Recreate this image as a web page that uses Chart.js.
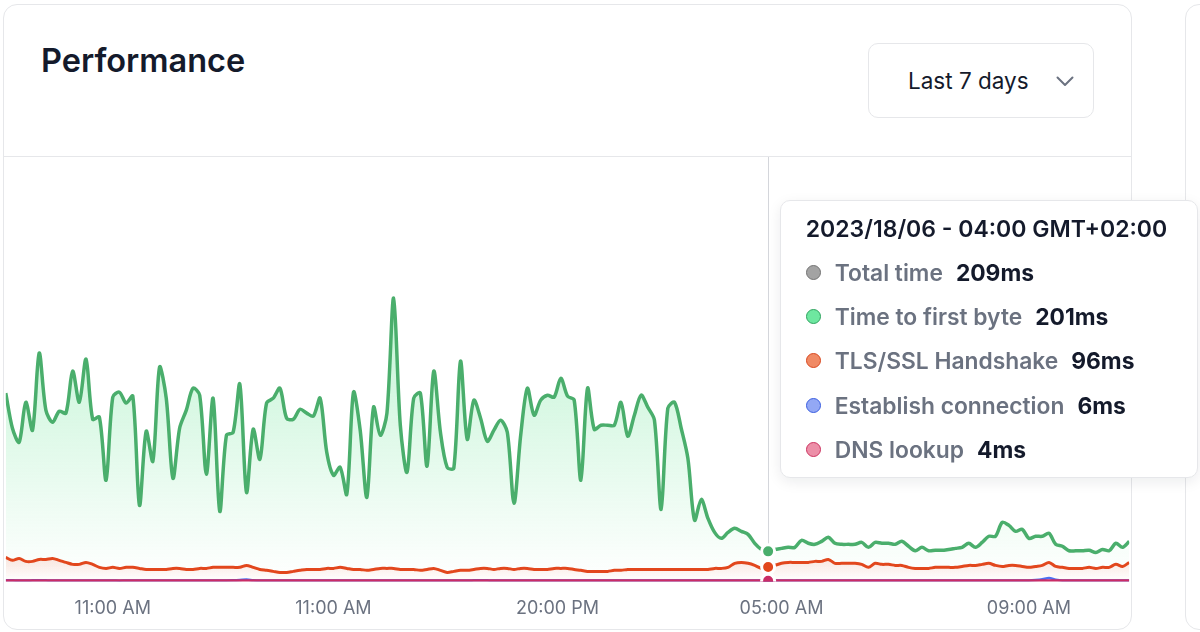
<!DOCTYPE html>
<html>
<head>
<meta charset="utf-8">
<title>Performance</title>
<script src="https://cdn.jsdelivr.net/npm/chart.js@4.4.0/dist/chart.umd.min.js"></script>
<style>
  html, body { margin: 0; padding: 0; background: #fff; }
  body { width: 1200px; height: 632px; position: relative; overflow: hidden; font-family: Inter, "Noto Sans", sans-serif; color: #111827; }
  .card { position: absolute; left: 3px; top: 4px; width: 1129px; height: 626px; box-sizing: border-box; border: 1px solid #e6e7ea; border-radius: 14px; background: #fff; }
  .card.next { left: 1185px; width: 200px; }
  .card h2 { position: absolute; left: 37px; top: 36px; margin: 0; font-size: 32.5px; line-height: 40px; font-weight: 600; color: #141a2b; }
  .divider { position: absolute; left: 0; right: 0; top: 151px; border-top: 1px solid #e6e7ea; }
  .select { position: absolute; left: 864px; top: 38px; width: 226px; height: 75px; box-sizing: border-box; border: 1px solid #e6e7ea; border-radius: 10px; display: flex; align-items: center; padding-left: 39px; font-size: 22.5px; color: #141a2b; }
  .select svg { position: absolute; left: 187px; top: 32px; }
  #wrap { position: absolute; left: 4px; top: 157px; width: 1127px; height: 488px; }
  #tip { position: absolute; top: 200px; width: 418px; height: 278px; box-sizing: border-box; background: #fff; border: 1px solid #e6e7ea; border-radius: 10px; box-shadow: 0 4px 14px rgba(17, 24, 39, 0.08); padding: 14px 0 0 25px; display: none; }
  #tip .title { font-size: 23px; line-height: 28px; font-weight: 600; color: #141a2b; margin-bottom: 7px; }
  #tip .row { height: 44.3px; display: flex; align-items: center; font-size: 22.8px; }
  #tip .dot { width: 15px; height: 15px; border-radius: 50%; box-sizing: border-box; border: 1.5px solid; margin-right: 14px; }
  #tip .lab { font-weight: 600; color: #6b7280; }
  #tip .val { font-weight: 700; color: #141a2b; margin-left: 13px; }
</style>
</head>
<body>
<div class="card">
  <h2>Performance</h2>
  <div class="select">Last 7 days
    <svg width="18" height="11" viewBox="0 0 18 11"><polyline points="1.5,1.5 9,9 16.5,1.5" fill="none" stroke="#6b7280" stroke-width="2" stroke-linecap="round" stroke-linejoin="round"/></svg>
  </div>
  <div class="divider"></div>
</div>
<div class="card next"></div>
<div id="wrap"><canvas id="perfChart"></canvas></div>
<div id="tip"></div>

<script>
// series names, in tooltip order
const seriesNames = ['Total time', 'Time to first byte', 'TLS/SSL Handshake', 'Establish connection', 'DNS lookup']
const lineColors = ['#9ca3af', '#4aae6c', '#e2471d', '#4f6ef0', '#ca2d66']
const dotFill = ['#a3a3a3', '#6ee7a0', '#f08a65', '#93a8f5', '#ec8fa8']
const dotBorder = ['#737373', '#2fa35f', '#d9481f', '#3b5ee0', '#cc3360']

// x axis tick labels and where they sit (in sample index units)
const tickLabels = ['11:00 AM', '11:00 AM', '20:00 PM', '05:00 AM', '09:00 AM']
const tickAt = [16, 49, 82.5, 116, 153]

// hovered sample
const hoverIndex = 114
const hoverTitle = '2023/18/06 - 04:00 GMT+02:00'

// values in ms
const totalTime = [1268,1033,940,1207,1020,1536,1154,1073,1147,1134,
  1415,1207,1495,1093,1107,685,1241,1274,1201,1248,
  517,1013,812,1442,1234,698,1033,1154,1301,1254,
  725,1234,477,986,1006,1328,604,1026,825,1201,
  1234,1301,1100,1093,1160,1134,1114,1234,872,718,
  772,591,1274,1020,571,1174,986,1134,1904,1053,
  738,1234,1268,779,1415,1006,772,765,1482,959,
  1221,1100,946,1020,1087,1006,531,986,1301,1120,
  1221,1254,1241,1368,1248,1221,685,1301,1026,1053,
  1053,1053,1207,980,1120,1254,1174,1087,490,1167,
  1207,1033,832,417,557,430,336,296,336,363,
  343,323,263,222,209,222,229,236,236,283,
  263,256,276,303,263,256,256,256,269,236,
  269,263,263,256,276,243,213,236,213,216,
  216,222,229,236,263,236,269,310,310,403,
  383,343,356,296,310,310,330,256,243,213,
  213,213,216,202,222,213,263,236,276]

const firstByte = [1260,1025,931,1199,1012,1528,1146,1065,1139,1126,
  1407,1199,1487,1085,1099,677,1233,1266,1193,1240,
  509,1005,804,1434,1226,690,1025,1146,1293,1246,
  717,1226,469,978,998,1320,596,1018,817,1193,
  1226,1293,1092,1085,1152,1126,1106,1226,864,710,
  764,583,1266,1012,563,1166,978,1126,1896,1045,
  730,1226,1260,771,1407,998,764,757,1474,951,
  1213,1092,938,1012,1079,998,523,978,1293,1112,
  1213,1246,1233,1360,1240,1213,677,1293,1018,1045,
  1045,1045,1199,972,1112,1246,1166,1079,482,1159,
  1199,1025,824,409,549,422,328,288,328,355,
  335,315,255,214,201,214,221,228,228,275,
  255,248,268,295,255,248,248,248,261,228,
  261,255,255,248,268,235,205,228,205,208,
  208,214,221,228,255,228,261,302,302,395,
  375,335,348,288,302,302,322,248,235,205,
  205,205,208,194,214,205,255,228,268]

const tlsHandshake = [161,141,154,134,134,147,147,154,141,127,
  114,114,127,114,94,87,94,87,94,94,
  87,80,80,80,80,87,87,80,80,87,
  87,94,94,94,94,94,107,94,80,74,
  67,60,60,67,74,80,80,80,87,87,
  94,87,80,80,74,80,87,87,87,80,
  80,80,74,80,87,74,60,67,74,74,
  80,87,87,80,87,87,80,87,87,80,
  80,80,87,87,87,80,74,67,67,67,
  67,74,74,80,80,80,80,80,80,80,
  80,80,80,80,80,80,87,87,94,121,
  127,121,107,87,96,107,121,127,127,127,
  127,134,134,147,121,121,121,121,114,94,
  121,114,114,107,107,94,87,87,87,94,
  94,94,94,100,107,107,114,121,107,100,
  107,107,100,94,100,107,127,100,94,87,
  87,87,94,87,94,94,114,100,127]

const connection = [7,7,6,6,7,8,7,6,6,6,
  6,6,6,6,6,6,6,5,6,6,
  6,6,6,6,6,6,6,6,6,6,
  6,6,6,6,7,9,12,8,6,6,
  6,6,6,6,6,6,6,6,6,6,
  6,6,6,6,6,6,6,6,6,6,
  6,6,6,6,6,6,6,6,6,6,
  7,8,7,6,6,6,6,6,6,6,
  6,6,6,6,6,6,6,6,6,6,
  6,6,6,6,6,6,6,6,6,6,
  6,6,6,6,6,6,6,6,6,6,
  6,6,6,6,6,6,6,6,6,6,
  6,6,6,6,6,6,6,6,6,6,
  6,6,6,6,6,6,6,6,6,6,
  6,6,6,6,6,6,6,6,6,6,
  6,6,6,6,9,14,22,12,6,6,
  6,6,6,6,6,6,6,6,6]

const dnsLookup = [5,5,4,4,5,5,4,4,4,4,
  4,4,4,4,4,4,4,4,4,4,
  4,4,4,4,4,4,4,4,4,4,
  4,4,4,4,4,4,5,4,4,4,
  4,4,4,4,4,4,4,4,4,4,
  4,4,4,4,4,4,4,4,4,4,
  4,4,4,4,4,4,4,4,4,4,
  4,4,4,4,4,4,4,4,4,4,
  4,4,4,4,4,4,4,4,4,4,
  4,4,4,4,4,4,4,4,4,4,
  4,4,4,4,4,4,4,4,4,4,
  4,4,4,4,4,4,4,4,4,4,
  4,4,4,4,4,4,4,4,4,4,
  4,4,4,4,4,4,4,4,4,4,
  4,4,4,4,4,4,4,4,4,4,
  4,4,4,4,4,5,4,4,4,4,
  4,4,4,4,4,4,4,4,4]

const allSeries = [totalTime, firstByte, tlsHandshake, connection, dnsLookup]
const pts = arr => arr.map((v, i) => ({ x: i, y: v }))

const fadeFill = (rgb, topAlpha, fromTop) => (ctx) => {
    const area = ctx.chart.chartArea
    if (!area) return 'transparent'
    const g = ctx.chart.ctx.createLinearGradient(0, fromTop ? area.top : area.bottom - 28, 0, area.bottom)
    g.addColorStop(0, 'rgba(' + rgb + ',' + topAlpha + ')')
    g.addColorStop(1, 'rgba(' + rgb + ',0)')
    return g
}

const lineWidths = [0, 3.5, 3, 2.5, 3]
const drawOrder = [4, 3, 2, 1, 0]

const datasets = allSeries.map((arr, i) => ({
    label: seriesNames[i],
    data: pts(arr),
    borderColor: lineColors[i],
    borderWidth: lineWidths[i],
    showLine: i !== 0,
    tension: 0.3,
    pointRadius: 0,
    pointHoverRadius: i === 0 ? 0 : 6.5,
    pointHoverBorderWidth: 3,
    pointHoverBorderColor: '#fff',
    pointHoverBackgroundColor: lineColors[i],
    order: drawOrder[i],
    fill: false
}))
datasets[1].fill = 'origin'
datasets[1].backgroundColor = fadeFill('74,222,128', 0.5, true)
datasets[2].fill = 'origin'
datasets[2].backgroundColor = fadeFill('239,90,60', 0.18, false)

const hoverLine = {
    id: 'hoverLine',
    beforeDatasetsDraw(chart) {
        const act = chart.getActiveElements().find(a => a.datasetIndex === 1)
        if (!act) return
        const ctx = chart.ctx
        ctx.save()
        ctx.strokeStyle = '#d4d6db'
        ctx.lineWidth = 1
        ctx.beginPath()
        ctx.moveTo(Math.round(act.element.x) + 0.5, 0)
        ctx.lineTo(Math.round(act.element.x) + 0.5, act.element.y)
        ctx.stroke()
        ctx.restore()
    }
}

const tipEl = document.getElementById('tip')
const wrapEl = document.getElementById('wrap')

const externalTip = ({ chart, tooltip }) => {
    if (tooltip.opacity === 0) { tipEl.style.display = 'none'; return }
    const items = tooltip.dataPoints.slice().sort((a, b) => a.datasetIndex - b.datasetIndex)
    let html = '<div class="title">' + (tooltip.title || []).join(' ') + '</div>'
    items.forEach(dp => {
        const k = dp.datasetIndex
        html += '<div class="row"><span class="dot" style="background:' + dotFill[k] + ';border-color:' + dotBorder[k] + '"></span>' +
            '<span class="lab">' + seriesNames[k] + '</span><span class="val">' + dp.raw.y + 'ms</span></div>'
    })
    tipEl.innerHTML = html
    tipEl.style.left = (wrapEl.offsetLeft + tooltip.caretX + 11) + 'px'
    tipEl.style.display = 'block'
}

const chart = new Chart(document.getElementById('perfChart'), {
    type: 'line',
    data: { datasets: datasets },
    plugins: [hoverLine],
    options: {
        responsive: true,
        maintainAspectRatio: false,
        animation: false,
        layout: { padding: { top: 6, bottom: 10, left: 0, right: 0 } },
        interaction: { mode: 'index', intersect: false },
        plugins: {
            legend: { display: false },
            tooltip: {
                enabled: false,
                external: externalTip,
                callbacks: { title: () => hoverTitle }
            }
        },
        scales: {
            x: {
                type: 'linear',
                min: 0,
                max: firstByte.length - 1,
                grid: { display: false, drawTicks: false },
                border: { display: false },
                afterBuildTicks: (axis) => { axis.ticks = tickAt.map(v => ({ value: v })) },
                ticks: {
                    autoSkip: false,
                    maxRotation: 0,
                    padding: 16,
                    color: '#6b7280',
                    font: { family: 'Inter', size: 18 },
                    callback: (v, i) => tickLabels[i]
                }
            },
            y: {
                display: false,
                min: 0,
                max: 2800
            }
        }
    }
})

const active = allSeries.map((a, i) => ({ datasetIndex: i, index: hoverIndex }))
chart.setActiveElements(active)
chart.tooltip.setActiveElements(active, { x: 0, y: 0 })
chart.update()
</script>
</body>
</html>
